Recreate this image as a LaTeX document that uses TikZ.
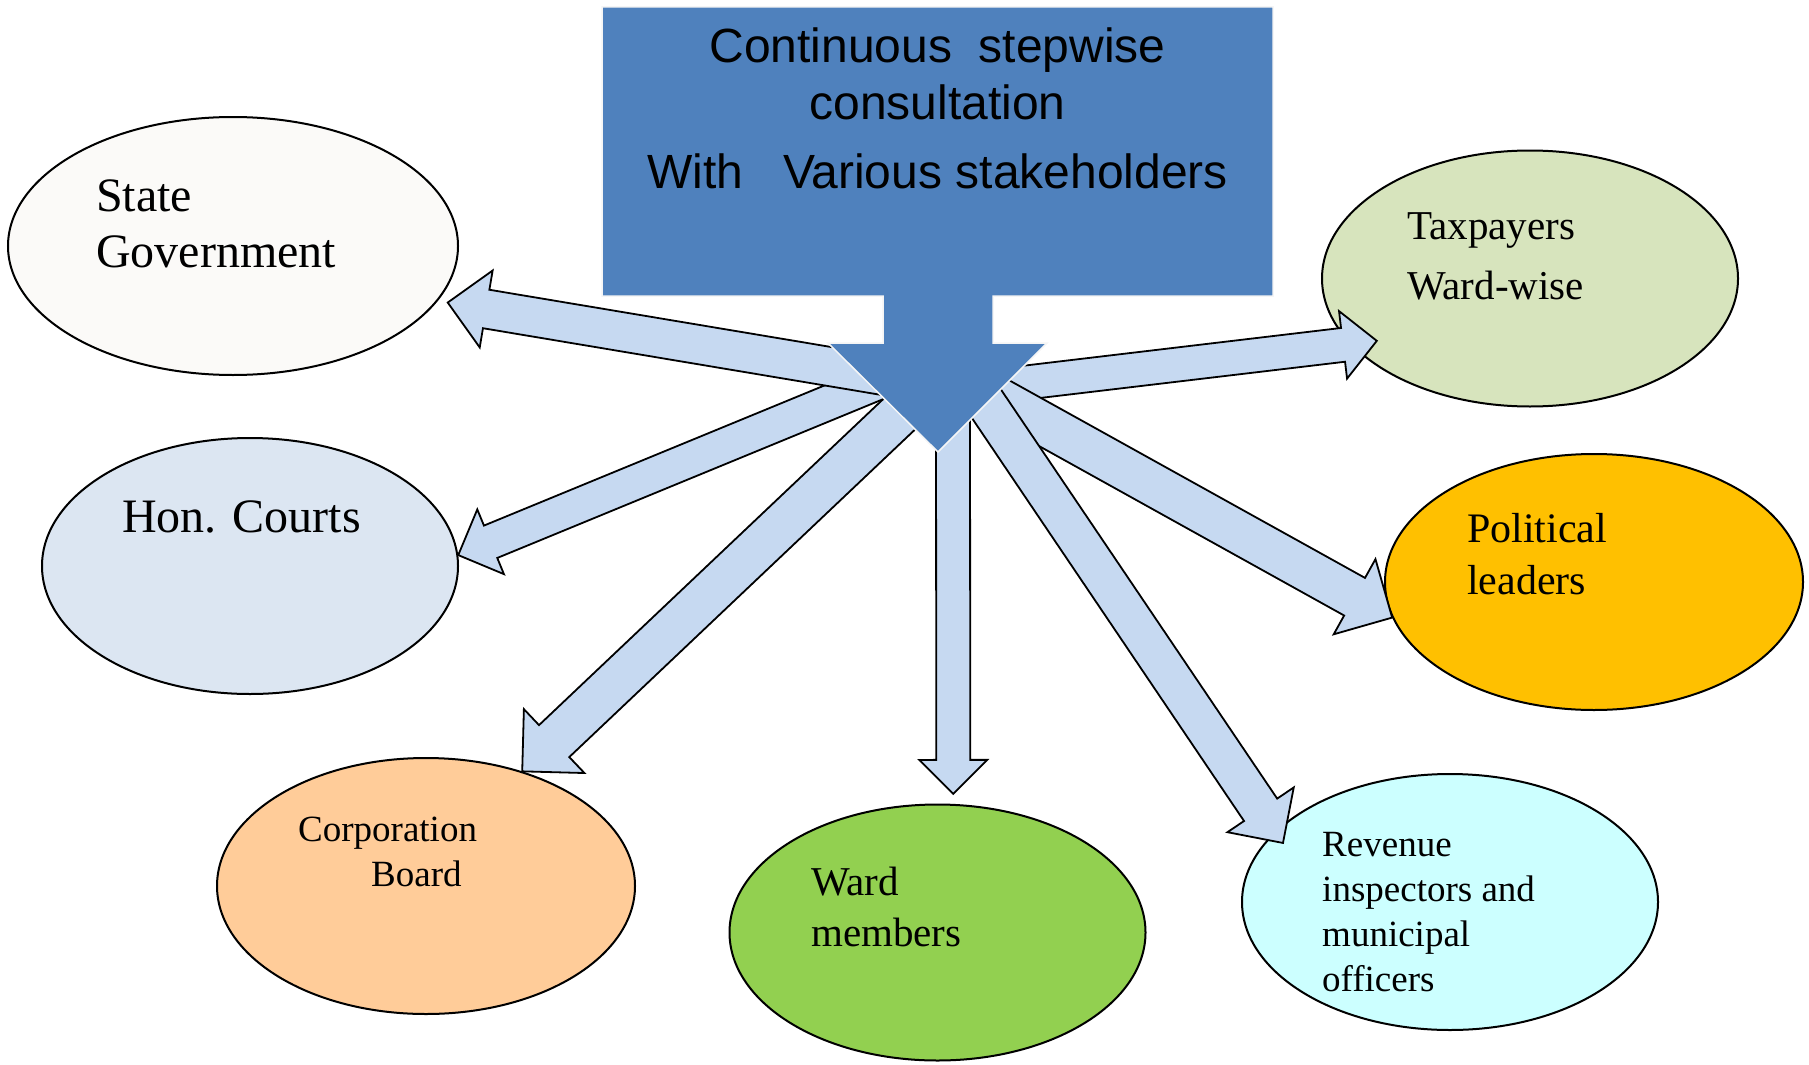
\documentclass[tikz,border=0pt]{standalone}
\usepackage{fontspec}
\setmainfont{Liberation Serif}
\newfontfamily\hubfont{Liberation Sans}
\usetikzlibrary{calc,shapes.geometric}

\definecolor{hubblue}{HTML}{4F81BD}
\definecolor{arrowblue}{HTML}{C6D9F1}
\definecolor{govfill}{HTML}{FBFAF8}
\definecolor{courtfill}{HTML}{DCE6F2}
\definecolor{boardfill}{HTML}{FFCC99}
\definecolor{wardfill}{HTML}{92D050}
\definecolor{revfill}{HTML}{CCFFFF}
\definecolor{polfill}{HTML}{FFC000}
\definecolor{taxfill}{HTML}{D7E4BD}

% block arrow: #1 width, #2 tail, #3 target anchor, #4 pull back from target
\newcommand{\blockarrow}[4]{%
  \path ($(#3)!#4!(#2)$) coordinate (tip) ($(tip)!#1!(#2)$) coordinate (base);
  \draw[ba] ($(#2)!#1/2!90:(tip)$) -- ($(base)!#1/2!-90:(#2)$)
    -- ($(base)!#1!-90:(#2)$) -- (tip) -- ($(base)!#1!90:(#2)$)
    -- ($(base)!#1/2!90:(#2)$) -- ($(#2)!#1/2!-90:(tip)$) -- cycle;
}

\begin{document}
\begin{tikzpicture}[x=1pt,y=-1pt]
\tikzstyle{stake} = [ellipse, draw=black, line width=2pt, minimum width=416pt, minimum height=256pt, inner sep=0pt]
\tikzstyle{txt} = [anchor=north west, align=left, inner sep=0pt]
\tikzstyle{ba} = [fill=arrowblue, draw=black, line width=1.8pt, line join=miter]

\useasboundingbox (0,0) rectangle (1809,1065);

% stakeholders
\node[stake, fill=govfill, minimum width=450pt, minimum height=258pt] (sg) at (233,246) {};
\node[stake, fill=courtfill] (hc) at (250,566) {};
\node[stake, fill=boardfill, minimum width=418pt] (cb) at (426,886) {};
\node[stake, fill=wardfill] (wm) at (937.5,932.5) {};
\node[stake, fill=revfill] (ri) at (1450,902) {};
\node[stake, fill=polfill, minimum width=418pt] (pl) at (1594,582) {};
\node[stake, fill=taxfill] (tx) at (1530,278.5) {};

\node[txt, font=\fontsize{48}{56}\selectfont] (sgt) at (96,180) {State\\Government};
\node[txt, font=\fontsize{48}{56}\selectfont] (hct) at (122,500.5) {Hon. Courts};
\node[txt, font=\fontsize{37}{45}\selectfont] (cbt) at (298,817) {Corporation\\\hspace*{73pt}Board};
\node[txt, font=\fontsize{41}{51}\selectfont] (wmt) at (811,867) {Ward\\members};
\node[txt, font=\fontsize{37}{44.7}\selectfont] (rit) at (1322,832.5) {Revenue\\inspectors and\\municipal\\officers};
\node[txt, font=\fontsize{42}{52}\selectfont] (plt) at (1467,513) {Political\\leaders};
\node[txt, font=\fontsize{41}{60}\selectfont] (txt) at (1407,212) {Taxpayers\\Ward-wise};

% arrow tails, under the hub
\coordinate (t1) at (940,385);
\coordinate (t2) at (925,363);
\coordinate (t3) at (929,386);
\coordinate (t4) at (953,395);
\coordinate (t5) at (967,375);
\coordinate (t6) at (950,372);
\coordinate (t7) at (938,393);

\blockarrow{44pt}{t3}{cb.50.5}{0pt}
\blockarrow{35pt}{t2}{hc.3.9}{0pt}
\blockarrow{39pt}{t1}{sg.345.6}{10pt}
\blockarrow{34pt}{t4}{wm.83.6}{10pt}
\blockarrow{34pt}{t7}{tx.200.3}{-27pt}
\blockarrow{43pt}{t6}{pl.190.5}{0pt}
\blockarrow{40pt}{t5}{ri.158.4}{-14pt}

% hub
\filldraw[fill=hubblue, draw=black!4, line width=1.5pt] (602,7) -- (1273,7) -- (1273,296) -- (993,296) -- (993,343) -- (1047,343)
  -- (938,452) -- (828,343) -- (883,343) -- (883,296) -- (602,296) -- cycle;
\node[font=\hubfont\fontsize{48}{57}\selectfont, align=center, anchor=north, inner sep=0pt] (hub) at (937.5,28)
  {Continuous~~stepwise\\consultation\\[12pt]With~~~Various stakeholders};
\end{tikzpicture}
\end{document}
